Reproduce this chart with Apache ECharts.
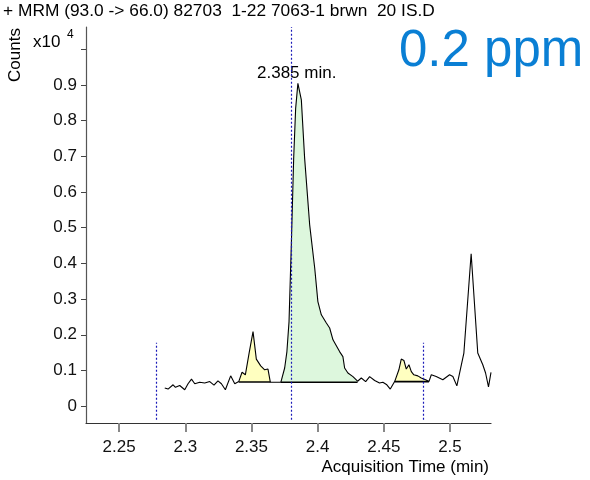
<!DOCTYPE html>
<html>
<head>
<meta charset="utf-8">
<script src="https://cdn.jsdelivr.net/npm/echarts@6/dist/echarts.min.js"></script>
<style>html,body{margin:0;padding:0;background:#fff}#c{width:590px;height:480px}</style>
</head>
<body>
<div id="c"></div>
<script>
// ---- data (time in min, counts in x10^4) ----
var times = [2.2845,2.2870,2.2908,2.2926,2.2958,2.2971,2.2996,2.3021,2.3047,2.3072,2.3109,2.3147,2.3185,2.3217,2.3247,2.3273,2.3303,2.3343,2.3374,
  2.3404,2.3429,2.3454,2.3483,2.3512,2.3537,2.3570,2.3600,2.3625,2.3643,2.3681,
  2.3722,2.3751,2.3768,2.3784,2.3802,2.3819,2.3834,2.3851,2.3877,2.3902,2.3940,2.3978,2.4002,2.4028,2.4066,2.4091,2.4116,2.4166,2.4191,2.4204,2.4229,2.4267,2.4302,
  2.4330,2.4363,2.4393,2.4431,2.4468,2.4493,2.4523,2.4549,
  2.4582,2.4614,2.4632,2.4652,2.4670,2.4690,2.4708,2.4727,2.4757,2.4783,2.4816,2.4841,
  2.4859,2.4896,2.4946,2.4997,2.5022,2.5052,2.5105,2.5160,2.5210,2.5248,2.5269,2.5291,2.5310];
var counts = [0.051,0.048,0.060,0.053,0.058,0.063,0.046,0.063,0.076,0.063,0.067,0.065,0.069,0.059,0.071,0.063,0.046,0.085,0.063,
  0.069,0.095,0.088,0.150,0.209,0.132,0.113,0.102,0.104,0.067,0.067,
  0.067,0.107,0.153,0.237,0.461,0.694,0.834,0.904,0.858,0.694,0.508,0.387,0.293,0.256,0.233,0.219,0.186,0.153,0.139,0.107,0.093,0.083,0.070,
  0.079,0.069,0.083,0.072,0.065,0.067,0.060,0.048,
  0.069,0.102,0.132,0.128,0.104,0.116,0.097,0.088,0.085,0.079,0.074,0.069,
  0.088,0.083,0.074,0.088,0.083,0.057,0.149,0.427,0.149,0.116,0.093,0.054,0.095];
// integrated peaks: start time, end time, baseline level
var peakStarts = [2.3404, 2.3722, 2.4582];
var peakEnds   = [2.3643, 2.4302, 2.4841];
var peakBases  = [0.068, 0.067, 0.069];
var peakColors = ['#ffffc0', '#ddf7dd', '#ffffc0'];
// dashed marker lines: time, bottom, top
var markerTimes = [2.278, 2.38, 2.48];
var markerTops  = [0.178, 1.062, 0.178];
var markerBottom = -0.038;
var xTicks = [2.25, 2.3, 2.35, 2.4, 2.45, 2.5];
var xTickLabels = ['2.25', '2.3', '2.35', '2.4', '2.45', '2.5'];
var yTicks = [0, 0.1, 0.2, 0.3, 0.4, 0.5, 0.6, 0.7, 0.8, 0.9, 1.0];
var yTickLabels = ['0', '0.1', '0.2', '0.3', '0.4', '0.5', '0.6', '0.7', '0.8', '0.9'];
var apexLabel = '2.385 min.';
var titleText = '+ MRM (93.0 -> 66.0) 82703  1-22 7063-1 brwn  20 IS.D';
var concText = '0.2 ppm';

var FONT = 'Liberation Sans, Arial, Helvetica, sans-serif';
var series = [];
// peak fills (polygon between trace and baseline), through the cartesian scales
series.push({
  type:'custom', coordinateSystem:'cartesian2d', silent:true, z:1, clip:true,
  data: peakStarts.map(function(s, i){ return [s, peakBases[i]]; }),
  renderItem: function(params, api){
    var p = params.dataIndex;
    var pts = [api.coord([peakStarts[p], peakBases[p]])];
    for (var i = 0; i < times.length; i++) {
      if (times[i] >= peakStarts[p] - 1e-9 && times[i] <= peakEnds[p] + 1e-9) {
        pts.push(api.coord([times[i], Math.max(counts[i], peakBases[p])]));
      }
    }
    pts.push(api.coord([peakEnds[p], peakBases[p]]));
    return {type:'polygon', shape:{points:pts}, style:{fill:peakColors[p], stroke:null}};
  }
});
for (var p = 0; p < peakStarts.length; p++) {
  series.push({type:'line', data:[[peakStarts[p], peakBases[p]],[peakEnds[p], peakBases[p]]], symbol:'none', silent:true,
    lineStyle:{color:'#000', width:1.6}, z:3});
}
var trace = times.map(function(t, i){ return [t, counts[i]]; });
var mlData = markerTimes.map(function(t, i){
  return [{coord:[t, markerBottom]}, {coord:[t, markerTops[i]]}];
});
series.push({type:'line', data:trace, symbol:'none', silent:true,
  lineStyle:{color:'#000', width:1.1}, z:4,
  markLine:{silent:true, symbol:['none','none'], label:{show:false},
    lineStyle:{color:'#1a1ab8', type:[2,2], width:1.2}, data:mlData}
});

var chart = echarts.init(document.getElementById('c'), null, {renderer:'canvas'});
chart.setOption({
  animation:false,
  backgroundColor:'#fff',
  grid:{left:86, right:99, top:27, bottom:57, containLabel:false},
  xAxis:{type:'value', min:2.225, max:2.531,
    axisLine:{show:true, onZero:false, lineStyle:{color:'#333', width:1.2}},
    axisTick:{show:true, customValues:xTicks, length:9, lineStyle:{color:'#888', width:2}},
    axisLabel:{customValues:xTicks, margin:16, color:'#111', fontSize:17, fontFamily:FONT,
      formatter:function(v){ var k = xTicks.indexOf(+(+v).toFixed(3)); return k >= 0 ? xTickLabels[k] : ''; }},
    splitLine:{show:false}},
  yAxis:{type:'value', min:-0.047, max:1.062,
    axisLine:{show:true, onZero:false, lineStyle:{color:'#555', width:1.2}},
    axisTick:{show:true, customValues:yTicks, length:5, lineStyle:{color:'#444', width:1}},
    axisLabel:{customValues:yTicks, margin:9, color:'#111', fontSize:17, fontFamily:FONT,
      formatter:function(v){ var k = Math.round(v * 10); return k < yTickLabels.length ? yTickLabels[k] : ''; }},
    splitLine:{show:false}},
  graphic:[
    {type:'text', left:3, top:3, style:{text:titleText, font:'17px ' + FONT, fill:'#000'}, scaleX:1.02},
    {type:'text', x:15, y:55, rotation:Math.PI/2, style:{text:'Counts', font:'17px ' + FONT, fill:'#000', align:'center', verticalAlign:'middle'}},
    {type:'text', x:33, y:42, style:{text:'x10', font:'17px ' + FONT, fill:'#000', verticalAlign:'middle'}},
    {type:'text', x:67, y:35, style:{text:'4', font:'12px ' + FONT, fill:'#000', verticalAlign:'middle'}},
    {type:'text', x:257, y:73, style:{text:apexLabel, font:'17px ' + FONT, fill:'#000', verticalAlign:'middle'}},
    {type:'text', x:399, y:52, style:{text:concText, font:'51px ' + FONT, fill:'#0a7fd4', verticalAlign:'middle'}},
    {type:'text', x:489, y:467, style:{text:'Acquisition Time (min)', font:'17px ' + FONT, fill:'#000', align:'right', verticalAlign:'middle'}}
  ],
  series:series
});
</script>
</body>
</html>
